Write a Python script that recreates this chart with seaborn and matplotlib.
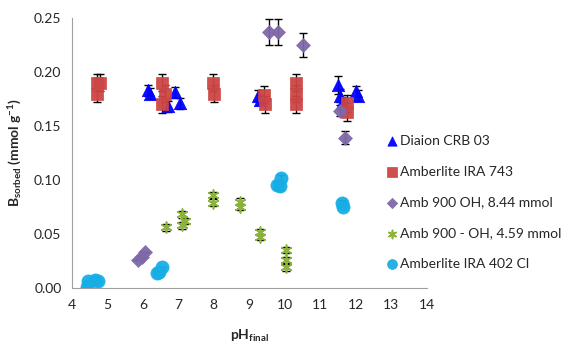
import numpy as np
import pandas as pd
import seaborn as sns
import matplotlib.pyplot as plt

# Diaion CRB 03
crb_ph = [6.15, 6.2, 6.7, 6.9, 7.05, 9.25, 9.3, 11.5, 11.55, 11.6, 12.0, 12.05]
crb_b = [0.183, 0.180, 0.168, 0.181, 0.171, 0.178, 0.174, 0.188, 0.178, 0.171, 0.182, 0.178]
crb_err = [0.005, 0.005, 0.005, 0.005, 0.005, 0.005, 0.005, 0.008, 0.006, 0.006, 0.005, 0.005]

# Amberlite IRA 743
ira743_ph = [4.7, 4.8, 4.7, 6.55, 6.62, 6.54, 7.97, 8.0, 9.42, 9.45, 10.3, 10.3, 10.3, 11.75, 11.75]
ira743_b = [0.190, 0.190, 0.180, 0.190, 0.180, 0.170, 0.190, 0.180, 0.179, 0.170, 0.190, 0.180, 0.170, 0.171, 0.163]
ira743_err = [0.008] * 15

# Amb 900 OH, 8.44 mmol
a900_ph = [5.86, 5.97, 6.06, 9.55, 9.8, 10.5, 11.55, 11.7]
a900_b = [0.026, 0.029, 0.033, 0.237, 0.237, 0.225, 0.164, 0.139]
a900_err = [0.0, 0.0, 0.0, 0.012, 0.012, 0.011, 0.005, 0.006]

# Amb 900 - OH, 4.59 mmol
a459_ph = [6.65, 7.1, 7.1, 7.2, 7.97, 7.97, 8.73, 8.73, 9.3, 9.3, 10.03, 10.03, 10.03]
a459_b = [0.056, 0.068, 0.058, 0.062, 0.086, 0.079, 0.080, 0.075, 0.052, 0.047, 0.035, 0.026, 0.019]
a459_err = [0.003] * 13

# Amberlite IRA 402 Cl
ira402_ph = [4.45, 4.42, 4.65, 4.73, 6.4, 6.54, 6.45, 9.77, 9.9, 9.86, 11.6, 11.63]
ira402_b = [0.006, 0.001, 0.007, 0.006, 0.014, 0.019, 0.015, 0.095, 0.102, 0.094, 0.079, 0.075]
ira402_err = [0.0, 0.0, 0.0, 0.0, 0.0, 0.0, 0.0, 0.003, 0.003, 0.003, 0.002, 0.002]

series = [
    ("Diaion CRB 03", crb_ph, crb_b, crb_err, "^", "#0000FF", 80),
    ("Amberlite IRA 743", ira743_ph, ira743_b, ira743_err, "s", "#CD4545", 85),
    ("Amb 900 OH, 8.44 mmol", a900_ph, a900_b, a900_err, "D", "#7F68A8", 50),
    ("Amb 900 - OH, 4.59 mmol", a459_ph, a459_b, a459_err, (6, 2, 0), "#8DB33F", 60),
    ("Amberlite IRA 402 Cl", ira402_ph, ira402_b, ira402_err, "o", "#17AEE6", 90),
]

sns.set_style("white")
plt.rcParams['font.family'] = ['Lato', 'DejaVu Sans']
plt.rcParams['mathtext.default'] = 'regular'

fig = plt.figure(figsize=(5.7, 3.59), dpi=100)
ax = fig.add_axes([0.126, 0.198, 0.623, 0.752])

for name, x, y, err, marker, color, size in series:
    ax.errorbar(x, y, yerr=err, fmt='none', ecolor='black', elinewidth=1, capsize=3, zorder=1)
    df = pd.DataFrame({"pH": x, "B": y})
    if marker == (6, 2, 0):
        sns.scatterplot(data=df, x="pH", y="B", marker=marker, color=color, s=size,
                        linewidth=1.2, label=name, ax=ax, zorder=2)
    else:
        sns.scatterplot(data=df, x="pH", y="B", marker=marker, color=color, s=size,
                        edgecolor=color, linewidth=0.5, alpha=0.95, label=name, ax=ax, zorder=2)

ax.set_xlim(4, 14)
ax.set_ylim(0, 0.25)
ax.set_xticks(range(4, 15))
ax.set_yticks(np.arange(0, 0.26, 0.05))
ax.yaxis.set_major_formatter(plt.FormatStrFormatter('%.2f'))
ax.tick_params(axis='x', direction='in', length=4, color='#A0A0A0', labelsize=10, pad=8)
ax.tick_params(axis='y', direction='out', length=4, color='#A0A0A0', labelsize=10)
for side in ['top', 'right']:
    ax.spines[side].set_visible(False)
for side in ['left', 'bottom']:
    ax.spines[side].set_color('#A0A0A0')

ax.set_xlabel(r'pH$_{final}$', fontsize=10, fontweight='bold', labelpad=12)
ax.set_ylabel(r'B$_{sorbed}$ (mmol g$^{-1}$)', fontsize=10, fontweight='bold', labelpad=7)

ax.legend(loc='upper left', bbox_to_anchor=(385 / 570, 1 - 135 / 359), bbox_transform=fig.transFigure,
          frameon=False, fontsize=10, labelspacing=1.35, handletextpad=0.1, handlelength=1.0,
          borderaxespad=0, borderpad=0, markerscale=0.75)

fig.savefig("out.png", dpi=100)
